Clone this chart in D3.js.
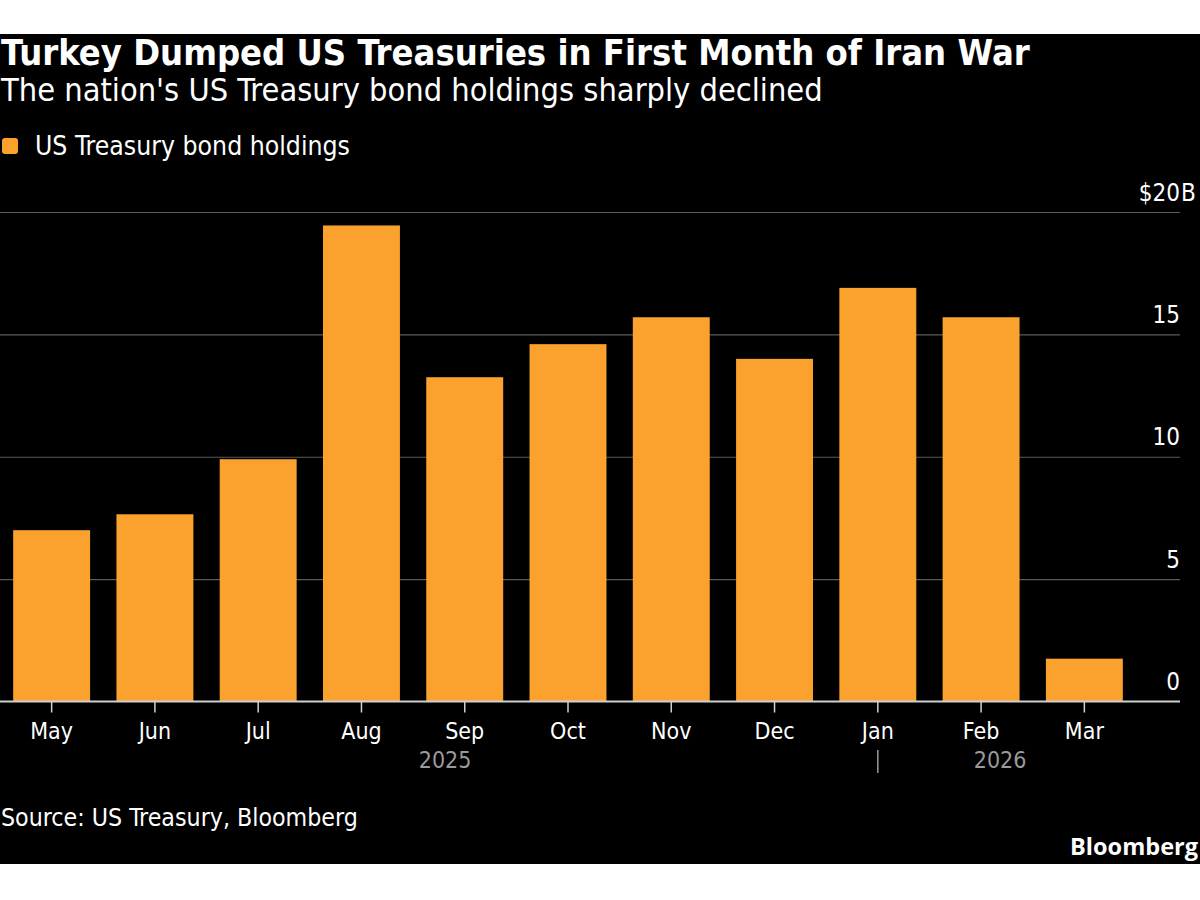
<!DOCTYPE html>
<html lang="en">
<head>
  <meta charset="UTF-8">
  <title>Turkey US Treasuries</title>
  <script src="https://d3js.org/d3.v7.min.js"></script>
  <style>
    body { margin: 0; background: #fff; }
    svg { font-family: "DejaVu Sans Condensed", "DejaVu Sans", sans-serif; display: block; }
  </style>
</head>
<body>
  <svg></svg>
  <script>
    // data (billions of USD)
    const months = ['May', 'Jun', 'Jul', 'Aug', 'Sep', 'Oct', 'Nov', 'Dec', 'Jan', 'Feb', 'Mar'];
    const monthYears = [2025, 2025, 2025, 2025, 2025, 2025, 2025, 2025, 2026, 2026, 2026];
    const holdings = [7.0, 7.65, 9.9, 19.45, 13.25, 14.6, 15.7, 14.0, 16.9, 15.7, 1.75];
    const yTicks = [0, 5, 10, 15, 20];

    const W = 1200, H = 900;
    const orange = '#faa12e';
    const data = months.map((m, i) => ({ month: m, year: monthYears[i], value: holdings[i] }));

    const svg = d3.select('svg').attr('width', W).attr('height', H);
    svg.append('rect').attr('width', W).attr('height', H).attr('fill', '#fff');
    svg.append('rect').attr('x', 0).attr('y', 34).attr('width', W).attr('height', 830).attr('fill', '#000');

    // scale a text's font size so it spans the wanted width
    function fitWidth(sel, target) {
      const len = sel.node().getComputedTextLength();
      const fs = parseFloat(sel.attr('font-size'));
      sel.attr('font-size', (fs * target / len).toFixed(2));
    }

    const title = svg.append('text')
      .attr('x', 1).attr('y', 65)
      .attr('font-size', 30).attr('font-weight', 'bold').attr('fill', '#fff')
      .text('Turkey Dumped US Treasuries in First Month of Iran War');
    fitWidth(title, 1029);

    const sub = svg.append('text')
      .attr('x', 1).attr('y', 101)
      .attr('font-size', 28).attr('fill', '#fff')
      .text("The nation's US Treasury bond holdings sharply declined");
    fitWidth(sub, 822);

    // legend
    svg.append('rect')
      .attr('x', 2).attr('y', 138).attr('width', 16).attr('height', 16)
      .attr('rx', 3).attr('fill', orange);
    const leg = svg.append('text')
      .attr('x', 35).attr('y', 155)
      .attr('font-size', 23).attr('fill', '#fff')
      .text('US Treasury bond holdings');
    fitWidth(leg, 315);

    const plotRight = 1180;
    const x = d3.scaleBand()
      .domain(months)
      .range([0, 1136])
      .paddingInner(0.255)
      .paddingOuter(0.1275);
    const y = d3.scaleLinear().domain([0, 20]).range([701.5, 212]);

    // gridlines
    svg.append('g')
      .attr('transform', `translate(${plotRight},0)`)
      .call(d3.axisLeft(y).tickValues(yTicks.slice(1)).tickSize(plotRight).tickFormat(''))
      .call(g => g.select('.domain').remove())
      .call(g => g.selectAll('line').attr('stroke', '#5a5a5a').attr('stroke-width', 1.2));

    // bars
    svg.append('g').selectAll('rect')
      .data(data)
      .join('rect')
      .attr('x', d => x(d.month))
      .attr('y', d => y(d.value))
      .attr('width', x.bandwidth())
      .attr('height', d => y(0) - y(d.value))
      .attr('fill', orange);

    // right value labels
    const yAxis = svg.append('g')
      .attr('transform', `translate(${plotRight},0)`)
      .call(d3.axisLeft(y).tickValues(yTicks).tickSize(0).tickPadding(0)
        .tickFormat(d => d === 20 ? '$20' : d))
      .attr('font-family', null)
      .call(g => g.select('.domain').remove());
    yAxis.selectAll('text')
      .attr('font-size', 24)
      .attr('fill', '#fff')
      .attr('dy', -12);
    yAxis.selectAll('.tick').filter(d => d === 20)
      .append('text')
      .attr('x', 1).attr('dy', -12)
      .attr('font-size', 24).attr('fill', '#fff')
      .attr('text-anchor', 'start')
      .text('B');

    // bottom axis
    const xAxis = svg.append('g')
      .attr('transform', `translate(0,${y(0)})`)
      .call(d3.axisBottom(x).tickSize(11).tickPadding(10))
      .attr('font-family', null);
    xAxis.select('.domain').remove();
    xAxis.selectAll('line').attr('stroke', '#d0d0d0').attr('stroke-width', 1.5);
    xAxis.selectAll('text')
      .attr('font-size', 23)
      .attr('fill', '#fff')
      .attr('dy', '0.72em');
    svg.append('line')
      .attr('x1', 0).attr('x2', plotRight)
      .attr('y1', y(0)).attr('y2', y(0))
      .attr('stroke', '#d0d0d0').attr('stroke-width', 2);

    // year labels and separator
    const years = Array.from(d3.group(data, d => d.year), ([yr, ms]) => ({
      year: yr,
      first: ms[0].month,
      centre: d3.mean(ms, m => x(m.month) + x.bandwidth() / 2)
    }));
    svg.append('g').selectAll('text')
      .data(years)
      .join('text')
      .attr('x', (d, i) => d.centre + (i === 0 ? 32 : 19))
      .attr('y', 768)
      .attr('text-anchor', 'middle')
      .attr('font-size', 23)
      .attr('fill', '#9a9a9a')
      .text(d => d.year);
    svg.append('g').selectAll('line')
      .data(years.slice(1))
      .join('line')
      .attr('x1', d => x(d.first) + x.bandwidth() / 2)
      .attr('x2', d => x(d.first) + x.bandwidth() / 2)
      .attr('y1', 750).attr('y2', 773)
      .attr('stroke', '#9a9a9a').attr('stroke-width', 1.5);

    // footer
    const src = svg.append('text')
      .attr('x', 1).attr('y', 826)
      .attr('font-size', 23).attr('fill', '#fff')
      .text('Source: US Treasury, Bloomberg');
    fitWidth(src, 357);

    const logo = svg.append('text')
      .attr('x', 1198).attr('y', 855)
      .attr('text-anchor', 'end')
      .attr('font-family', '"Open Sans", "DejaVu Sans", sans-serif')
      .attr('font-size', 22).attr('font-weight', 'bold').attr('fill', '#fff')
      .text('Bloomberg');
    fitWidth(logo, 128);
  </script>
</body>
</html>
